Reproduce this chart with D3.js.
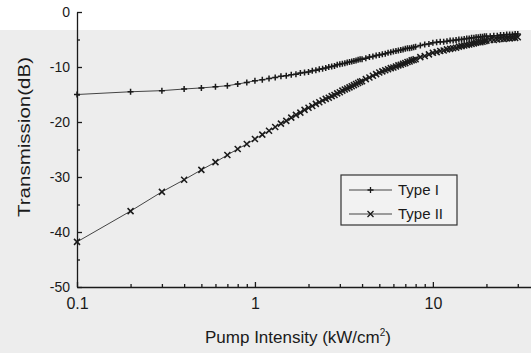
<!DOCTYPE html>
<html>
<head>
<meta charset="utf-8">
<script src="https://cdn.jsdelivr.net/npm/d3@7"></script>
<style>
  body { margin: 0; background: #fff; }
  svg { display: block; font-family: "Liberation Sans", Arial, sans-serif; }
</style>
</head>
<body>
<div id="chart"></div>
<script>
// Pump intensity (kW/cm2) of each measured point
const PUMP = [
    0.1, 0.2, 0.3, 0.4, 0.5, 0.6, 0.7, 0.8, 0.9, 1.0,
    1.1, 1.2, 1.3, 1.4, 1.5, 1.6, 1.7, 1.8, 1.9, 2.0,
    2.1, 2.2, 2.3, 2.4, 2.5, 2.6, 2.7, 2.8, 2.9, 3.0,
    3.1, 3.2, 3.3, 3.4, 3.5, 3.6, 3.7, 3.8, 3.9, 4.0,
    4.2, 4.4, 4.6, 4.8, 5.0, 5.2, 5.4, 5.6, 5.8, 6.0,
    6.2, 6.4, 6.6, 6.8, 7.0, 7.2, 7.4, 7.6, 7.8, 8.0,
    8.5, 9.0, 9.5, 10, 10.5, 11, 11.5, 12, 12.5, 13,
    13.5, 14, 14.5, 15, 15.5, 16, 16.5, 17, 17.5, 18,
    18.5, 19, 19.5, 20, 21, 22, 23, 24, 25, 26,
    27, 28, 29, 30
];

// Transmission (dB), Type I
const TYPE_I = [
    -15.0, -14.5, -14.3, -14.0, -13.8, -13.6, -13.4, -13.1, -12.8, -12.5,
    -12.3, -12.1, -11.9, -11.7, -11.6, -11.4, -11.3, -11.1, -11.0, -10.9,
    -10.7, -10.6, -10.4, -10.3, -10.2, -10.0, -9.9, -9.8, -9.6, -9.5,
    -9.4, -9.3, -9.2, -9.1, -9.0, -8.9, -8.8, -8.7, -8.6, -8.6,
    -8.4, -8.2, -8.1, -7.9, -7.8, -7.7, -7.6, -7.4, -7.3, -7.2,
    -7.1, -7.0, -6.9, -6.8, -6.7, -6.6, -6.6, -6.5, -6.4, -6.3,
    -6.1, -5.9, -5.8, -5.6, -5.5, -5.4, -5.4, -5.3, -5.2, -5.2,
    -5.1, -5.0, -5.0, -4.9, -4.8, -4.8, -4.7, -4.7, -4.6, -4.6,
    -4.5, -4.5, -4.4, -4.4, -4.4, -4.3, -4.3, -4.2, -4.2, -4.1,
    -4.1, -4.1, -4.0, -4.0
];

// Transmission (dB), Type II
const TYPE_II = [
    -41.8, -36.2, -32.7, -30.5, -28.7, -27.3, -26.0, -24.9, -24.0, -23.1,
    -22.3, -21.6, -20.9, -20.3, -19.8, -19.2, -18.7, -18.3, -17.8, -17.4,
    -17.1, -16.7, -16.4, -16.1, -15.8, -15.6, -15.3, -15.1, -14.8, -14.6,
    -14.3, -14.1, -13.9, -13.7, -13.5, -13.3, -13.1, -12.9, -12.7, -12.6,
    -12.2, -11.9, -11.6, -11.3, -11.0, -10.8, -10.6, -10.4, -10.2, -10.1,
    -9.9, -9.7, -9.6, -9.4, -9.3, -9.1, -9.0, -8.8, -8.7, -8.6,
    -8.2, -8.0, -7.7, -7.4, -7.3, -7.1, -7.0, -6.8, -6.7, -6.6,
    -6.5, -6.3, -6.2, -6.1, -6.0, -5.9, -5.8, -5.7, -5.6, -5.5,
    -5.5, -5.4, -5.3, -5.2, -5.1, -5.1, -5.0, -4.9, -4.9, -4.8,
    -4.8, -4.7, -4.7, -4.6
];

const SERIES_NAMES = ["Type I", "Type II"];
const Y_TICKS = [0, -10, -20, -30, -40, -50];
const Y_MINOR = [-5, -15, -25, -35, -45];
const X_TICKS = [0.1, 1, 10];
const X_MINOR = [0.2, 0.3, 0.4, 0.5, 0.6, 0.7, 0.8, 0.9, 2, 3, 4, 5, 6, 7, 8, 9, 20, 30];

const WIDTH = 531;
const HEIGHT = 353;
const INK = "#1a1a1a";

const svg = d3.select("#chart").append("svg")
    .attr("width", WIDTH)
    .attr("height", HEIGHT);

// Scanned page look: white top strip, light grey below
svg.append("rect").attr("width", WIDTH).attr("height", HEIGHT).attr("fill", "#fff");
svg.append("rect")
    .attr("x", 0).attr("y", 30)
    .attr("width", WIDTH).attr("height", HEIGHT - 30)
    .attr("fill", "#ededed");

const x = d3.scaleLog().domain([0.1, 35.6]).range([77, 531]);
const y = d3.scaleLinear().domain([-50, 0]).range([287, 12]);

// Y axis, ticks point inward
const yAxis = svg.append("g")
    .attr("transform", "translate(77,0)")
    .call(d3.axisLeft(y).tickValues(Y_TICKS).tickSizeInner(-5).tickSizeOuter(0)
        .tickPadding(7).tickFormat(d => String(d)));
svg.append("g")
    .attr("transform", "translate(77,0)")
    .call(d3.axisLeft(y).tickValues(Y_MINOR).tickSizeInner(-3).tickSizeOuter(0).tickFormat(""))
    .call(g => g.select(".domain").remove());
yAxis.selectAll("text").style("font-size", "14px");

// X axis (log)
const xAxis = svg.append("g")
    .attr("transform", "translate(0,287)")
    .call(d3.axisBottom(x).tickValues(X_TICKS).tickSizeInner(-5).tickSizeOuter(0)
        .tickPadding(11).tickFormat(d => String(d)));
svg.append("g")
    .attr("transform", "translate(0,287)")
    .call(d3.axisBottom(x).tickValues(X_MINOR).tickSizeInner(-3).tickSizeOuter(0).tickFormat(""))
    .call(g => g.select(".domain").remove());
xAxis.selectAll("text").style("font-size", "16px");

svg.selectAll(".domain, .tick line").attr("stroke", INK).attr("stroke-width", 1.3);
svg.selectAll(".tick text").attr("fill", INK);

// Axis titles
svg.append("text")
    .attr("transform", "translate(30,137) rotate(-90)")
    .attr("text-anchor", "middle")
    .attr("textLength", 160)
    .attr("lengthAdjust", "spacingAndGlyphs")
    .style("font-size", "16px")
    .attr("fill", INK)
    .text("Transmission(dB)");

const xTitle = svg.append("text")
    .attr("x", 205)
    .attr("y", 343)
    .style("font-size", "17px")
    .attr("fill", INK);
xTitle.append("tspan").text("Pump Intensity (kW/cm");
xTitle.append("tspan").attr("dy", -7).style("font-size", "10px").text("2");
xTitle.append("tspan").attr("dy", 7).text(")");

// Marker shapes
const PLUS = "M-3,0H3M0,-3V3";
const CROSS = "M-3,-3L3,3M-3,3L3,-3";

const series = [
    { name: SERIES_NAMES[0], values: TYPE_I, marker: PLUS },
    { name: SERIES_NAMES[1], values: TYPE_II, marker: CROSS }
];

const line = d3.line()
    .x(d => x(d[0]))
    .y(d => y(d[1]));

series.forEach(s => {
    const pts = PUMP.map((p, i) => [p, s.values[i]]);
    svg.append("path")
        .datum(pts)
        .attr("d", line)
        .attr("fill", "none")
        .attr("stroke", "#444")
        .attr("stroke-width", 1);
    svg.append("g")
        .selectAll("path")
        .data(pts)
        .enter().append("path")
        .attr("transform", d => `translate(${x(d[0])},${y(d[1])})`)
        .attr("d", s.marker)
        .attr("fill", "none")
        .attr("stroke", INK)
        .attr("stroke-width", 1.5);
});

// Legend
const legend = svg.append("g").attr("transform", "translate(341,175)");
legend.append("rect")
    .attr("width", 116)
    .attr("height", 50)
    .attr("fill", "#f2f2f2")
    .attr("stroke", "#333")
    .attr("stroke-width", 1.2);

series.forEach((s, i) => {
    const row = legend.append("g").attr("transform", `translate(0,${15 + i * 24})`);
    row.append("line")
        .attr("x1", 8).attr("x2", 51)
        .attr("stroke", "#444").attr("stroke-width", 1);
    row.append("path")
        .attr("transform", "translate(29.5,0)")
        .attr("d", s.marker)
        .attr("fill", "none")
        .attr("stroke", INK)
        .attr("stroke-width", 1.3);
    row.append("text")
        .attr("x", 57)
        .attr("y", 5)
        .style("font-size", "15px")
        .attr("fill", INK)
        .text(s.name);
});
</script>
</body>
</html>
